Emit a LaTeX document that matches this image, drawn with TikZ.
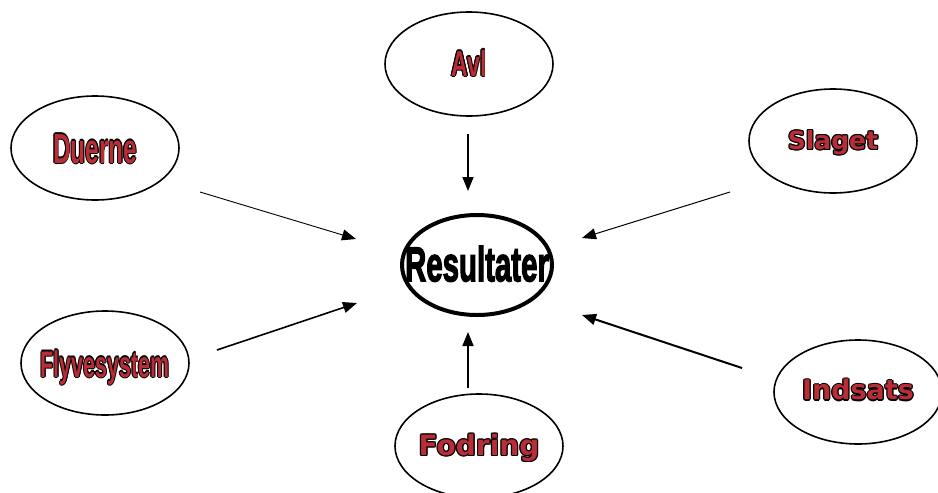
\documentclass[tikz,border=0pt]{standalone}
\usepackage{fontspec}
\usepackage{graphicx}
\usetikzlibrary{arrows.meta,shapes.geometric}
\newfontfamily\narrowf{Liberation Sans Bold}
\newfontfamily\heavyf{Liberation Sans Bold}[FakeBold=3]
\newfontfamily\widef{DejaVu Sans Bold}
\definecolor{olred}{RGB}{185,45,55}
\newcommand\cpy[3]{\makebox[0pt][l]{\kern#1\raisebox{#2}{\color{black}#3}}}
\newcommand\olt[1]{\cpy{-1.2pt}{0pt}{#1}\cpy{1.2pt}{0pt}{#1}\cpy{0pt}{1.2pt}{#1}\cpy{0pt}{-1.2pt}{#1}\cpy{-.85pt}{.85pt}{#1}\cpy{.85pt}{.85pt}{#1}\cpy{-.85pt}{-.85pt}{#1}\cpy{.85pt}{-.85pt}{#1}{\color{olred}#1}}
\newcommand\zbox[2][0pt]{\makebox[0pt]{\raisebox{\dimexpr-.5\height+#1\relax}[0pt][0pt]{#2}}}
\begin{document}
\begin{tikzpicture}[x=1pt,y=-1pt,
  topic/.style={draw=black,line width=1.6pt,shape=ellipse,minimum width=168pt,minimum height=104pt,inner sep=0pt},
  centre/.style={draw=black,line width=4pt,shape=ellipse,minimum width=150pt,minimum height=100pt,inner sep=0pt},
  conn/.style={-{Triangle[length=14pt,width=11pt]},line width=#1},
  conn/.default=1.5pt]
\useasboundingbox (0,0) rectangle (938,493);
\node[topic] (avl) at (469,64) {\zbox[1.5pt]{\narrowf\fontsize{36}{36}\selectfont\scalebox{0.64}[1]{\olt{Avl}}}};
\node[topic] (duerne) at (95,148) {\zbox{\narrowf\fontsize{42}{42}\selectfont\scalebox{0.58}[1]{\olt{Duerne}}}};
\node[topic] (slaget) at (833,141) {\zbox[1.5pt]{\widef\fontsize{25}{25}\selectfont\olt{Slaget}}};
\node[centre] (res) at (477,265) {\zbox[1.5pt]{\heavyf\fontsize{49}{49}\selectfont\scalebox{0.6}[1]{Resultater}}};
\node[topic] (flyve) at (105,363) {\zbox{\narrowf\fontsize{37}{37}\selectfont\scalebox{0.58}[1]{\olt{Flyvesystem}}}};
\node[topic] (fodring) at (479,446) {\zbox[1.5pt]{\widef\fontsize{28}{28}\selectfont\olt{Fodring}}};
\node[topic] (indsats) at (858,392) {\zbox[3pt]{\widef\fontsize{27}{27}\selectfont\olt{Indsats}}};
\coordinate (a1) at (468,134); \coordinate (a2) at (468,191);
\coordinate (d1) at (200,192); \coordinate (d2) at (356,239);
\coordinate (s1) at (730,192); \coordinate (s2) at (582,238);
\coordinate (f1) at (217,350); \coordinate (f2) at (357,303);
\coordinate (o1) at (468,388); \coordinate (o2) at (468,332);
\coordinate (i1) at (742,368); \coordinate (i2) at (582,315);
\draw[conn=1.5pt] (a1) -- (a2);
\draw[conn=0.9pt] (d1) -- (d2);
\draw[conn=1pt] (s1) -- (s2);
\draw[conn=1.6pt] (f1) -- (f2);
\draw[conn=1.6pt] (o1) -- (o2);
\draw[conn=2pt] (i1) -- (i2);
\end{tikzpicture}
\end{document}
